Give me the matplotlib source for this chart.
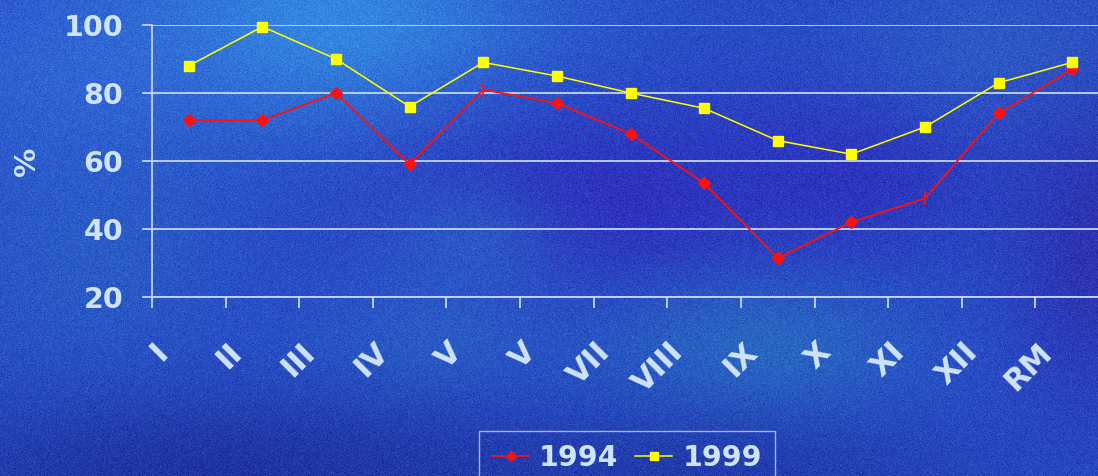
import numpy as np
import matplotlib
matplotlib.use("Agg")
import matplotlib.pyplot as plt
import matplotlib.transforms as mtransforms
from matplotlib.lines import Line2D

# monthly values, % (RM = yearly figure)
months = ['I', 'II', 'III', 'IV', 'V', 'V', 'VII', 'VIII', 'IX', 'X', 'XI', 'XII', 'RM']
pct_1994 = [72, 72, 80, 59, 81, 77, 68, 53.5, 31.5, 42, 49, 74, 87]
pct_1999 = [88, 99.5, 90, 76, 89, 85, 80, 75.5, 66, 62, 70, 83, 89]
tick_marks_1994 = [4, 10]   # points drawn with a bar marker instead of a diamond
yticks = [20, 40, 60, 80, 100]

W, H = 1098, 476
TXT = '#cfe4fa'
GRID = '#c4d4f0'
plt.rcParams['font.family'] = 'DejaVu Sans'
plt.rcParams['font.weight'] = 'bold'

# ---- textured blue backdrop
yy, xx = np.mgrid[0:H, 0:W].astype(float)
img = np.ones((H, W, 3)) * np.array([40, 76, 198]) / 255.0
blobs = [
    (330, 20, 210, 110, (55, 150, 232), 0.8),
    (60, 70, 170, 120, (55, 115, 222), 0.5),
    (600, 200, 210, 95, (48, 38, 185), 0.7),
    (860, 170, 130, 85, (46, 40, 185), 0.6),
    (1000, 50, 150, 80, (50, 105, 200), 0.5),
    (760, 345, 150, 70, (42, 125, 190), 0.55),
    (470, 240, 90, 60, (45, 112, 205), 0.5),
    (430, 340, 130, 60, (45, 110, 200), 0.45),
    (90, 260, 130, 120, (45, 112, 200), 0.4),
    (220, 476, 330, 80, (28, 42, 145), 0.7),
    (1098, 250, 90, 160, (48, 36, 165), 0.6),
    (720, 476, 260, 60, (28, 44, 150), 0.5),
]
for cx, cy, rx, ry, col, w in blobs:
    a = w * np.exp(-((xx - cx) / rx) ** 2 - ((yy - cy) / ry) ** 2)
    img = img * (1 - a[..., None]) + np.array(col)[None, None, :] / 255.0 * a[..., None]
rng = np.random.default_rng(3)
grain = rng.normal(0, 0.035, (H, W, 1)) * np.array([0.5, 1.0, 0.7])
img = np.clip(img + grain, 0, 1)

fig = plt.figure(figsize=(W / 100, H / 100), dpi=100)
bg = fig.add_axes([0, 0, 1, 1])
bg.imshow(img, aspect='auto', interpolation='nearest')
bg.axis('off')

# ---- chart area (runs slightly past the right edge)
ax = fig.add_axes([152 / W, 1 - 297 / H, (1109 - 152) / W, 272 / H])
ax.set_facecolor('none')
x = np.arange(len(months))

ax.plot(x, pct_1994, color='#ff1010', lw=1.3, zorder=3, clip_on=False)
dia = [i for i in x if i not in tick_marks_1994]
ax.plot(x[dia], np.array(pct_1994)[dia], ls='none', marker='D', ms=6,
        color='#ff1010', zorder=3, clip_on=False)
ax.plot(x[tick_marks_1994], np.array(pct_1994)[tick_marks_1994], ls='none',
        marker='|', ms=10, mew=1.3, color='#ff1010', zorder=3, clip_on=False)
ax.plot(x, pct_1999, color='#ffff00', lw=1.1, marker='s', ms=7,
        zorder=4, clip_on=False)

ax.set_xlim(-0.5, len(months) - 0.5)
ax.set_ylim(20, 100)
ax.set_yticks(yticks)
ax.yaxis.grid(True, color=GRID, lw=1.3)
ax.set_axisbelow(True)

ax.set_xticks(x)
ax.set_xticklabels(months, rotation=45, ha='right', va='top')
ax.set_xticks(np.arange(-0.5, len(months)), minor=True)
ax.tick_params(axis='x', which='major', length=0, pad=29, labelsize=22, labelcolor=TXT)
ax.tick_params(axis='x', which='minor', length=8, width=1.3, color=GRID, direction='out')
ax.tick_params(axis='y', length=7.2, width=1.3, color=GRID, pad=13.5,
               labelsize=20.5, labelcolor=TXT)

offset = mtransforms.ScaledTranslation(-15 / 100, 0, fig.dpi_scale_trans)
for lab in ax.xaxis.get_majorticklabels():
    lab.set_transform(lab.get_transform() + offset)

for side in ['top', 'right']:
    ax.spines[side].set_visible(False)
for side in ['left', 'bottom']:
    ax.spines[side].set_color(GRID)
    ax.spines[side].set_linewidth(1.3)

fig.text(27 / W, 1 - 161 / H, '%', rotation=90, ha='center', va='center',
         fontsize=21, color=TXT)

handles = [Line2D([], [], color='#ff1010', lw=1.3, marker='D', ms=5),
           Line2D([], [], color='#ffff00', lw=1.1, marker='s', ms=6)]
leg = fig.legend(handles, ['1994', '1999'], loc='upper center', ncol=2,
                 bbox_to_anchor=(627 / W, 1 - 431 / H), bbox_transform=fig.transFigure,
                 borderaxespad=0, fontsize=20.5, frameon=True, fancybox=False,
                 handlelength=1.3, handletextpad=0.35, columnspacing=0.6,
                 borderpad=0.45)
leg.get_frame().set_facecolor('none')
leg.get_frame().set_edgecolor(GRID)
leg.get_frame().set_linewidth(1.0)
for t in leg.get_texts():
    t.set_color(TXT)

fig.savefig('out.png', dpi=100)
